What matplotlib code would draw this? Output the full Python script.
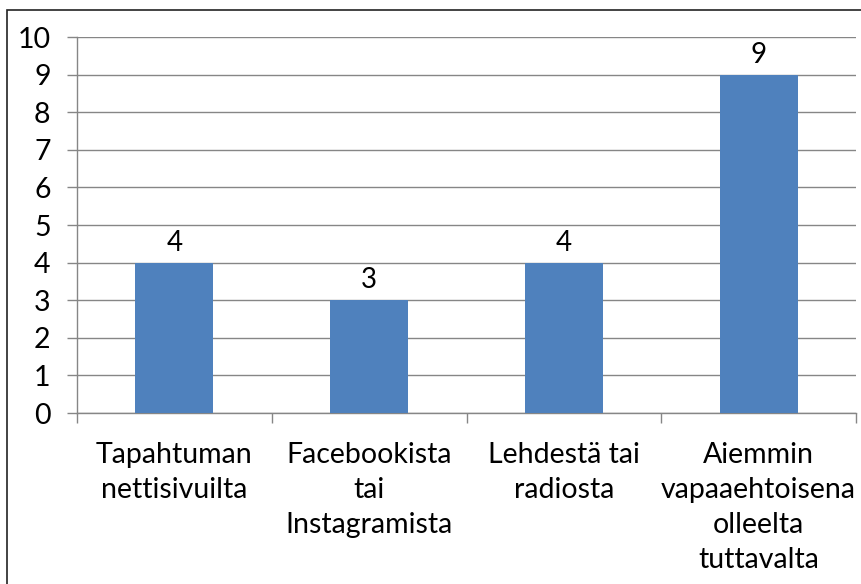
import numpy as np
import matplotlib.pyplot as plt
from matplotlib.patches import Rectangle

# data
categories = ['Tapahtuman\nnettisivuilta',
              'Facebookista\ntai\nInstagramista',
              'Lehdestä tai\nradiosta',
              'Aiemmin\nvapaaehtoisena\nolleelta\ntuttavalta']
values = [4, 3, 4, 9]
y_ticks = list(range(0, 11))

plt.rcParams['font.family'] = ['Lato', 'DejaVu Sans']

W, H = 861, 584
fig = plt.figure(figsize=(W / 100, H / 100), dpi=100)
ax = fig.add_axes([77 / W, (H - 413) / H, (856 - 77) / W, 376 / H])

grey = '#868686'
x = np.arange(len(categories))
bars = ax.bar(x, values, width=0.4, color='#4F81BD', zorder=3)

for b, v in zip(bars, values):
    ax.annotate(str(v), (b.get_x() + b.get_width() / 2, v),
                xytext=(0, 5), textcoords='offset points',
                ha='center', va='bottom', fontsize=20, color='black')

ax.set_xlim(-0.5, len(categories) - 0.5)
ax.set_ylim(0, 10)
ax.set_yticks(y_ticks)
ax.yaxis.grid(True, color=grey, linewidth=1, zorder=0)

ax.set_xticks(x)
ax.set_xticklabels(categories, fontsize=20.5, linespacing=1.42)
ax.set_xticks(np.arange(-0.5, len(categories)), minor=True)
ax.tick_params(axis='x', which='major', length=0, pad=21)
ax.tick_params(axis='x', which='minor', length=7, color=grey, width=1)
ax.tick_params(axis='y', length=7, color=grey, width=1, labelsize=20.5, pad=12)

for s in ['top', 'right']:
    ax.spines[s].set_visible(False)
for s in ['left', 'bottom']:
    ax.spines[s].set_color(grey)
    ax.spines[s].set_linewidth(1)

# outer chart frame, only left and top edges visible in the crop
fig.patches.append(Rectangle((7 / W, -0.1), 1.2, (H - 10) / H + 0.1,
                             transform=fig.transFigure, fill=False,
                             edgecolor='#222222', linewidth=1.2))

fig.savefig('out.png', dpi=100)
